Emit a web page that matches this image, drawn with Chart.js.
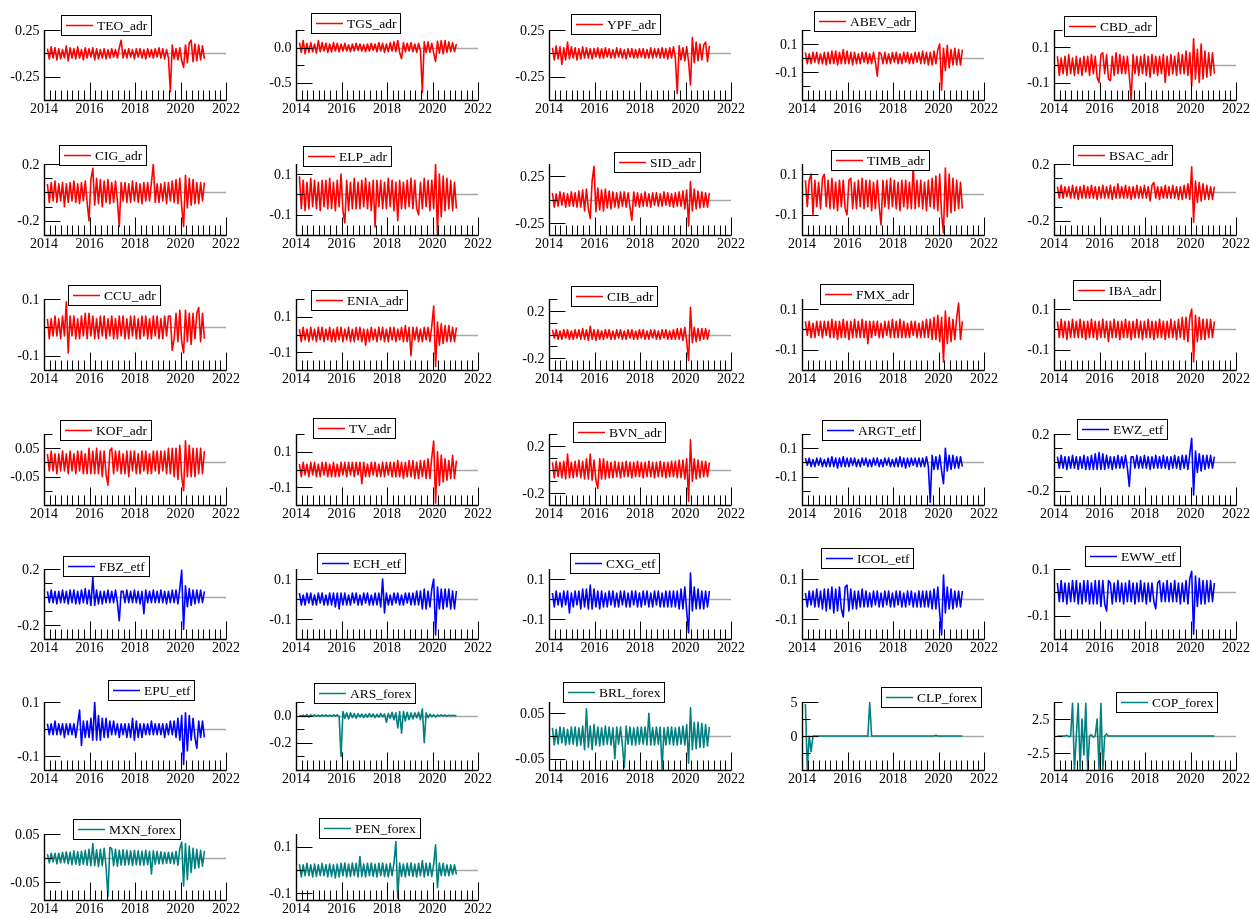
<!DOCTYPE html>
<html><head><meta charset="utf-8">
<script src="https://cdn.jsdelivr.net/npm/chart.js"></script>
<style>
html,body{margin:0;padding:0;background:#fff;width:1251px;height:919px;overflow:hidden;position:relative}
canvas{position:absolute;display:block}
</style></head><body>
<script>
// ---------------- DATA (daily returns, ~monthly envelope samples) ----------------
const sampleStart = 2014.15, sampleEnd = 2021.05;
const xTickLabels = ['2014','2016','2018','2020','2022'];

const TEO_adr = [.05,-.06,.07,-.05,.06,-.07,.05,-.06,.04,-.05,.08,-.08, .06,-.05,.05,-.06,.07,-.05,.04,-.07,.06,-.05,.05,-.04, .06,-.07,.05,-.06,.04,-.05,.05,-.06,.04,-.05,.05,-.04, .04,-.05,.06,.14,-.05,.04,-.05,.05,-.04,.04,-.06,.05, -.04,.05,-.05,.04,-.06,.05,-.04,.04,-.05,.05,-.04,.06, -.05,.05,-.06,.04,-.05,-.41,.09,-.06,.05,-.07,.06,-.08, -.15,.09,-.1,.11,.14,-.09,.1,-.08,.09,-.07,.08,-.06];
const TGS_adr = [.07,-.07,.1,-.09,.06,-.07,.07,-.06,.05,-.08,.1,-.06, .07,-.05,.06,-.07,.05,-.06,.07,-.05,.06,-.06,.05,-.05, .06,-.05,.04,-.06,.05,-.05,.06,-.04,.05,-.05,.04,-.06, .05,-.05,.06,-.04,.05,-.06,.07,-.05,.06,-.07,.05,-.06, .07,-.05,.08,-.06,.1,-.07,-.16,.07,-.06,.06,-.05,.07, -.06,.05,-.07,.06,-.05,-.64,.08,-.07,.08,-.07,.06,-.08, -.2,.09,-.08,.1,-.09,.1,-.07,.08,-.06,.07,-.06,.05];
const YPF_adr = [.06,-.07,.08,-.06,.07,-.12,.06,-.07,.12,-.06,.07,-.05, .06,-.07,.05,-.06,.07,-.05,.06,-.05,.05,-.06,.05,-.04, .06,-.05,.05,-.05,.06,-.04,.05,-.05,.04,-.05,.06,-.04, .05,-.05,.04,-.06,.05,-.04,.05,-.05,.04,-.05,.05,-.04, .05,-.05,.04,-.05,.06,-.05,.05,-.04,.05,-.05,.06,-.05, .05,-.06,.06,-.05,.07,-.05,-.43,.08,-.07,.06,-.08,.07, -.09,-.34,.17,-.1,.12,-.08,.1,-.07,.09,.12,-.09,.08];
const ABEV_adr = [.04,-.04,.03,-.04,.04,-.03,.04,-.04,.03,-.04,.04,-.05, .04,-.04,.05,-.04,.05,-.05,.04,-.04,.06,-.04,.05,-.04, .04,-.05,.04,-.04,.03,-.04,.04,-.03,.04,-.04,.03,-.04, .04,-.03,-.13,.04,.03,-.04,.04,-.04,.03,-.04,.04,-.03, .04,-.04,.03,-.04,.04,-.03,.04,-.04,.03,-.04,.04,-.03, .04,-.04,.05,-.04,.04,-.05,.04,-.05,.05,-.04,.06,.1, -.23,.07,-.09,.09,-.07,.06,-.05,.07,-.05,.06,-.05,.06];
const CBD_adr = [.05,-.06,.04,-.05,.05,-.06,.06,-.05,.04,-.06,.05,-.05, .04,-.06,.05,-.04,.05,-.06,.06,-.05,.05,-.07,-.1,.06, .07,-.05,.06,-.08,-.09,.05,-.06,.07,-.05,.06,-.05,.05, -.05,.05,-.06,-.2,.06,-.05,.05,-.06,.05,-.05,.06,-.06, .05,-.07,.06,-.05,.05,-.06,.05,-.05,.06,-.1,.05,-.06, .06,-.05,.05,-.06,.07,-.05,.06,-.05,.08,-.06,.07,-.12, .15,-.08,.09,-.1,.12,-.08,.08,-.07,.07,-.06,.07,-.05];
const CIG_adr = [.06,-.07,.07,-.06,.08,-.07,.06,-.06,.07,-.1,.06,-.07, .07,-.06,.08,-.07,.06,-.08,.07,-.06,.08,-.07,-.2,.09, .17,-.09,.1,-.08,.09,-.1,.08,-.07,.09,-.08,.07,-.07, .08,-.06,-.24,.07,-.06,.07,-.07,.06,-.07,.08,-.06,.07, -.07,.06,-.08,.07,-.06,.07,-.06,.07,.2,-.07,.06,-.07, .06,-.06,.07,-.08,.07,-.06,.08,-.07,.09,-.08,.1,-.1, -.24,.12,-.11,.1,-.09,.09,-.08,.07,-.08,.07,-.06,.07];
const ELP_adr = [.09,-.07,.07,-.08,.06,-.07,.08,-.06,.07,-.07,.06,-.08, .07,-.06,.07,-.07,.08,-.07,.06,-.08,.07,-.06,.1,-.08, -.14,.07,-.08,.06,-.07,.08,-.07,.06,-.07,.07,-.06,.08, -.07,.06,-.08,.07,-.16,.07,-.06,.07,-.07,.06,-.07,.08, -.06,.07,-.08,.06,-.13,.07,-.07,.06,-.07,.07,-.06,.08, -.07,.07,-.07,-.1,.06,-.07,.08,-.06,.07,-.08,.07,-.07, .15,-.2,.1,-.11,.09,-.08,.08,-.07,.07,-.08,.06,-.07];
const SID_adr = [.07,-.08,.06,-.07,.08,-.06,.07,-.08,.06,-.07,.08,-.07, .07,-.08,.09,-.08,.1,-.12,.11,-.1,-.2,.2,.35,-.13, .12,-.11,.1,-.12,.11,-.09,.09,-.1,.08,-.08,.07,-.09, .08,-.07,.08,-.08,.07,-.08,-.22,.08,-.07,.07,-.08,.06, -.07,.08,-.07,.06,-.08,.07,-.06,.07,-.07,.06,-.07,.08, -.06,.07,-.07,.06,-.08,.07,-.07,.08,-.07,.09,-.1,.1, -.28,.19,-.12,.11,-.1,.09,-.09,.08,-.08,.07,-.08,.07];
const TIMB_adr = [.07,-.06,.07,.1,-.1,.07,-.06,.06,-.07,.08,.1,-.06, .07,-.07,.08,-.07,.06,-.08,.07,-.06,.07,-.07,-.1,.07, .08,-.07,.06,-.07,.07,-.06,.08,-.07,.07,-.06,.07,-.08, .06,-.07,.07,-.06,-.15,.07,-.06,.07,-.07,.08,-.06,.07, -.07,.06,-.08,.07,-.06,.07,-.07,.06,-.07,.14,-.07,.07, -.06,.07,-.07,.06,-.08,.07,-.06,.08,-.07,.09,-.08,.1, -.1,-.19,.13,-.11,.1,-.09,.08,-.08,.07,-.07,.06,-.07];
const BSAC_adr = [.04,-.04,.05,-.04,.04,-.03,.04,-.04,.05,-.04,.04,-.05, .04,-.04,.05,-.04,.04,-.04,.05,-.04,.04,-.05,.04,-.04, .05,-.04,.04,-.04,.05,-.05,.04,-.04,.06,-.04,.04,-.04, .05,-.04,.04,-.05,.04,-.04,.05,-.04,.04,-.04,.05,-.04, .04,-.06,.05,.07,-.04,.04,-.05,.04,-.04,.05,-.04,.04, -.04,.05,-.04,.04,-.05,.04,-.05,.05,-.04,.06,-.05,.18, -.21,.08,-.07,.07,-.06,.06,-.05,.05,-.05,.04,-.05,.04];
const CCU_adr = [.03,-.04,.03,-.03,.04,-.03,.03,-.04,.04,-.03,.09,-.09, .04,-.03,.04,-.04,.03,-.04,.04,-.03,.05,-.04,.05,-.03, .04,-.04,.03,-.04,.04,-.03,.04,-.04,.03,-.03,.04,-.04, .03,-.04,.04,-.03,.04,-.04,.03,-.04,.04,-.03,.04,-.04, .03,-.04,.04,-.03,.04,-.04,.03,-.04,.04,-.03,.04,-.04, .03,-.04,.04,-.03,.04,.04,-.08,-.04,.05,-.05,.06,-.05, -.09,.06,-.05,.05,-.06,.05,-.04,.05,.07,-.05,.05,-.04];
const ENIA_adr = [.03,-.04,.04,-.03,.03,-.04,.04,-.03,.03,-.04,.04,-.03, .04,-.04,.03,-.03,.04,-.04,.03,-.04,.04,-.03,.04,-.04, .03,-.03,.04,-.04,.03,-.04,.04,-.03,.04,-.04,.03,-.06, .03,-.04,.04,-.03,.03,-.04,.04,-.03,.04,-.04,.03,-.04, .04,-.03,.04,-.04,.03,-.03,.04,-.04,.05,-.04,.04,-.12, .04,-.03,.04,-.04,.03,-.04,.04,-.03,.04,-.04,.05,.16, -.18,.07,-.06,.06,-.05,.05,-.04,.05,-.04,.04,-.04,.04];
const CIB_adr = [.04,-.03,.04,-.04,.03,-.04,.04,-.03,.04,-.04,.03,-.04, .04,-.03,.04,-.04,.05,-.04,.04,-.05,.07,-.04,.04,-.05, .04,-.04,.03,-.04,.04,-.03,.04,-.04,.03,-.04,.04,-.03, .04,-.04,.03,-.04,.04,-.03,.04,-.04,.03,-.04,.04,-.03, .04,-.04,.03,-.04,.04,-.03,.04,-.04,.03,-.04,.04,-.03, .04,-.04,.03,-.04,.04,-.04,.05,-.04,.05,-.05,.06,-.06, -.22,.23,-.07,.06,-.06,.05,-.05,.05,-.04,.05,-.04,.04];
const FMX_adr = [.04,-.03,.04,-.04,.03,-.04,.04,-.03,.04,-.04,.04,-.03, .04,-.04,.05,-.04,.04,-.05,.04,-.04,.05,-.04,.04,-.05, .04,-.04,.05,-.04,.04,-.04,.05,-.04,.04,-.07,.04,-.04, .04,-.03,.04,-.04,.03,-.04,.04,-.03,.04,-.04,.05,-.04, .04,-.04,.05,-.04,.04,-.04,.03,-.04,.04,-.03,.04,-.04, .03,-.04,.04,-.04,.05,-.04,.05,-.05,.06,-.05,.07,-.06, .06,-.16,.09,-.07,.06,-.06,.05,-.05,.06,.13,-.05,.04];
const IBA_adr = [.04,-.04,.05,-.04,.04,-.05,.04,-.04,.05,-.04,.04,-.04, .05,-.04,.04,-.05,.04,-.04,.05,-.04,.04,-.05,.04,-.04, .05,-.04,.04,-.06,.04,-.04,.05,-.04,.04,-.05,.04,-.04, .05,-.04,.04,-.05,.04,-.04,.05,-.04,.04,-.05,.04,-.04, .05,-.04,.04,-.05,.04,-.04,.05,-.04,.04,-.05,.04,-.04, .05,-.04,.04,-.05,.05,-.04,.06,-.05,.06,-.06,.06,.1, -.16,.07,-.06,.06,-.05,.05,-.05,.05,-.04,.05,-.04,.04];
const KOF_adr = [.03,-.03,.04,-.03,.03,-.04,.03,-.03,.04,-.03,.03,-.04, .04,-.03,.03,-.04,.04,-.03,.04,-.04,.03,-.04,.05,-.04, .04,-.04,.05,-.04,.04,-.05,.04,-.04,-.08,.04,.05,-.04, .04,-.03,.04,-.04,.03,-.04,.04,-.05,.04,-.03,.04,-.04, .03,-.04,.04,-.03,.04,-.04,.03,-.04,.04,-.03,.04,-.04, .04,-.03,.04,-.04,.05,-.04,.05,-.05,.05,-.06,.06,-.05, -.1,.076,-.05,.06,-.05,.05,-.05,.05,-.04,.05,-.04,.04];
const TV_adr = [.03,-.04,.04,-.03,.03,-.04,.04,-.03,.04,-.04,.03,-.04, .04,-.03,.04,-.04,.03,-.04,.04,-.04,.03,-.04,.04,-.03, .04,-.04,.04,-.03,.04,-.04,.04,-.03,.04,-.08,.04,-.04, .03,-.04,.04,-.03,.04,-.04,.03,-.04,.04,-.04,.04,-.03, .04,-.04,.04,-.04,.05,-.04,.04,-.05,.04,-.04,.05,-.04, .05,-.05,.04,-.05,.05,-.04,.05,-.05,.06,-.05,.07,.16, -.19,.1,-.09,.08,-.07,.06,-.06,.05,-.05,.08,-.05,.05];
const BVN_adr = [.06,-.07,.07,-.06,.06,-.07,.07,-.08,.13,-.07,.06,-.07, .07,-.06,.08,-.07,.07,-.08,.09,-.08,.13,-.09,.08,-.09, -.16,.09,-.08,.09,-.08,.07,-.07,.06,-.07,.07,-.06,.06, -.07,.06,-.06,.07,-.06,.06,-.07,.06,-.06,.07,-.06,.06, -.07,.06,-.06,.07,-.06,.06,-.07,.06,-.06,.07,-.06,.06, -.07,.06,-.06,.07,-.06,.07,-.07,.08,-.07,.08,-.08,.09, -.27,.25,-.1,.09,-.08,.08,-.07,.07,-.06,.07,-.06,.06];
const ARGT_etf = [.03,-.02,.03,-.03,.02,-.03,.03,-.02,.03,-.03,.02,-.03, .03,-.03,.04,-.03,.03,-.04,.03,-.03,.04,-.03,.03,-.03, .03,-.02,.03,-.03,.02,-.03,.03,-.02,.03,-.03,.02,-.03, .03,-.02,.03,-.03,.02,-.03,.03,-.02,.03,-.03,.02,-.03, .03,-.03,.04,-.03,.03,-.04,.03,-.03,.03,-.02,.03,-.03, .03,-.03,.03,-.03,.04,-.03,-.28,.05,-.05,.04,-.05,.05, -.06,-.15,.1,-.06,.05,-.05,.05,-.04,.04,-.04,.04,-.03];
const EWZ_etf = [.04,-.04,.05,-.04,.04,-.05,.04,-.04,.05,-.04,.04,-.05, .04,-.04,.05,-.05,.04,-.05,.05,-.05,.06,-.05,.07,-.05, .06,-.05,.05,-.04,.04,-.05,.04,-.04,.05,-.04,.04,-.04, .05,-.04,-.17,.04,.04,-.04,.05,-.04,.04,-.04,.05,-.04, .04,-.05,.04,-.04,.05,-.04,.04,-.04,.05,-.04,.04,-.05, .04,-.04,.05,-.04,.04,-.05,.05,-.04,.05,-.05,.06,.17, -.23,.08,-.07,.06,-.06,.05,-.05,.05,-.04,.05,-.04,.04];
const FBZ_etf = [.04,-.04,.05,-.04,.04,-.05,.04,-.04,.05,-.04,.04,-.05, .05,-.04,.05,-.05,.04,-.05,.05,-.04,.06,-.05,.05,-.06, .14,-.06,.05,-.05,.04,-.05,.04,-.04,.05,-.04,.04,-.04, .05,-.04,-.17,.04,.04,-.04,.05,-.04,.04,-.04,.05,-.04, .04,-.05,.04,-.12,.05,-.04,.04,-.04,.05,-.04,.04,-.04, .05,-.04,.04,-.05,.04,-.04,.05,-.04,.05,-.05,.06,.19, -.23,.08,-.07,.06,-.06,.05,-.05,.05,-.04,.05,-.04,.04];
const ECH_etf = [.03,-.03,.02,-.03,.03,-.02,.03,-.03,.02,-.03,.03,-.02, .03,-.03,.02,-.03,.03,-.03,.03,-.04,.03,-.05,.03,-.03, .03,-.03,.02,-.03,.03,-.02,.03,-.03,.02,-.03,.03,-.02, .03,-.03,.02,-.03,.03,-.03,.03,-.04,.1,-.07,.03,-.03, .02,-.03,.03,-.02,.03,-.03,.02,-.03,.03,-.02,.03,-.03, .03,-.03,.04,-.03,.04,-.05,.05,-.05,.04,-.04,.05,.1, -.18,.06,-.05,.05,-.05,.05,-.04,.05,-.05,.04,-.05,.04];
const CXG_etf = [.03,-.04,.04,-.03,.03,-.04,.04,-.03,.04,-.07,.03,-.04, .04,-.03,.04,-.05,.05,-.04,.05,-.05,.07,-.05,.05,-.04, .04,-.05,.04,-.04,.03,-.04,.04,-.03,.04,-.04,.03,-.04, .04,-.03,.04,-.04,.03,-.04,.04,-.03,.04,-.04,.03,-.04, .04,-.03,.04,-.04,.03,-.04,.04,-.03,.04,-.04,.03,-.04, .04,-.04,.04,-.04,.04,-.04,.04,-.05,.05,-.05,.06,-.06, -.17,.13,-.06,.06,-.05,.05,-.05,.04,-.05,.04,-.04,.04];
const ICOL_etf = [.03,-.04,.04,-.03,.04,-.04,.05,-.04,.04,-.05,.05,-.06, .05,-.05,.06,-.07,.05,-.06,.06,-.05,-.09,.06,.07,-.06, .05,-.05,.04,-.05,.04,-.04,.05,-.04,.04,-.04,.03,-.04, .04,-.03,.04,-.04,.03,-.04,.04,-.03,.04,-.04,.03,-.04, .04,-.03,.04,-.04,.03,-.04,.04,-.03,.04,-.04,.03,-.04, .04,-.04,.04,-.04,.04,-.04,.04,-.05,.05,-.05,.06,-.07, -.18,.12,-.07,.06,-.05,.05,-.05,.04,-.04,.04,-.04,.04];
const EWW_etf = [.04,-.04,.05,-.04,.04,-.05,.04,-.04,.05,-.04,.05,-.05, .04,-.05,.05,-.04,.05,-.05,.04,-.05,.05,-.05,.05,-.06, .05,-.05,-.08,.05,.04,-.05,.04,-.04,.05,-.04,.04,-.05, .04,-.04,.05,-.04,.04,-.05,.04,-.04,.05,-.04,.04,-.05, .04,-.04,.04,-.04,-.07,.04,.05,-.04,.04,-.04,.05,-.04, .04,-.04,.05,-.04,.04,-.05,.04,-.04,.05,-.05,.06,.09, -.18,.07,-.06,.06,-.05,.05,-.05,.05,-.04,.05,-.04,.04];
const EPU_etf = [.02,-.02,.02,-.02,.03,-.02,.02,-.02,.02,-.03,.02,-.02, .02,-.02,.02,-.03,.02,.07,-.06,.03,-.03,.03,-.03,.04, -.04,.1,-.04,.05,-.04,.04,-.03,.04,-.03,.03,-.02,.03, -.02,.02,-.03,.02,-.02,.02,-.03,.02,-.03,.04,-.04,.03, -.03,.02,-.03,.02,-.02,.02,-.02,.03,-.02,.02,-.02,.02, -.02,.02,-.03,.02,-.02,.03,-.02,.03,-.03,.04,-.04,.05, -.13,.06,-.08,.05,-.04,.04,-.03,-.07,.03,-.03,.03,-.03];
const ARS_forex = [.005,-.005,.004,-.006,.008,-.01,.006,-.005,.005,-.006,.004,-.005, .005,-.004,.006,-.005,.004,-.005,.006,-.004,.005,-.006,-.3,.03, -.02,.02,-.025,.02,-.015,.015,-.02,.015,-.01,.012,-.015,.01, -.012,.015,-.01,.012,-.015,.01,-.012,.015,-.01,.012,-.05,.015, -.02,.025,-.03,.02,-.09,.03,-.13,.03,-.04,.025,-.03,.02, -.025,.02,-.015,.025,-.03,.05,-.2,.02,-.015,.01,-.008,.006, -.01,.005,-.004,.005,-.003,.004,-.003,.003,-.002,.003,-.002,.002];
const BRL_forex = [.018,-.02,.015,-.018,.02,-.015,.018,-.02,.015,-.018,.02,-.018, .02,-.022,.018,-.02,.022,-.03,.06,-.025,.022,-.03,.025,-.02, .02,-.022,.018,-.02,.022,-.018,.02,-.02,.018,-.05,.02,-.018, .02,-.02,-.07,.022,-.018,.02,-.02,.018,-.02,.02,-.018,.02, -.018,.02,-.02,.05,-.02,.018,-.02,.02,-.018,.02,-.075,.018, -.02,.02,-.018,.02,-.02,.018,-.02,.02,-.018,.022,-.02,.025, -.06,.062,-.03,.03,-.028,.03,-.025,.028,-.025,.025,-.022,.02];
const CLP_forex = [4.7,-4.9,.01,-2.3,.01,-.01,.01,-.01,.01,-.01,.01,-.01, .01,-.01,.01,-.01,.01,-.01,.01,-.01,.01,-.01,.01,-.01, .01,-.01,.01,-.01,.01,-.01,.01,-.01,.01,-.01,4.9,-.01, .01,-.01,.01,-.01,.01,-.01,.01,-.01,.01,-.01,.01,-.01, .01,-.01,.01,-.01,.01,-.01,.01,-.01,.01,-.01,.01,-.01, .01,-.01,.01,-.01,.01,-.01,.01,-.01,.01,.1,.01,-.01, .01,-.01,.01,-.01,.01,-.01,.01,-.01,.01,-.01,.01,-.01];
const COP_forex = [.01,-.01,.01,-.01,.01,.1,-.1,.01,4.8,-5,.01,4.8, -5,2.5,-2.8,4.8,-5,.01,.2,-.2,.01,2.5,-5,4.8, -5,.01,.3,-.01,.01,-.01,.01,-.01,.01,-.01,.01,-.01, .01,-.01,.01,-.01,.01,-.01,.01,-.01,.01,-.01,.01,-.01, .01,-.01,.01,-.01,.01,-.01,.01,-.01,.01,-.01,.01,-.01, .01,-.01,.01,-.01,.01,-.01,.01,-.01,.01,-.01,.01,-.01, .01,-.01,.01,-.01,.01,-.01,.01,-.01,.01,-.01,.01,-.01];
const MXN_forex = [.008,-.01,.01,-.008,.01,-.012,.01,-.01,.012,-.01,.013,-.012, .012,-.014,.015,-.013,.013,-.015,.014,-.013,.016,-.015,.018,-.016, .03,-.016,.017,-.018,.018,-.016,.02,-.018,-.08,.022,.02,-.016, .018,-.017,.016,-.015,.017,-.015,.016,-.014,.015,-.016,.016,-.014, .015,-.015,.014,-.015,.016,-.014,.014,-.033,.015,-.013,.014,-.012, .013,-.012,.012,-.011,.012,-.011,.012,-.012,.014,-.015,.02,.033, -.058,.03,-.045,.025,-.03,.02,-.022,.018,-.02,.016,-.017,.015];
const PEN_forex = [.025,-.03,.022,-.025,.028,-.025,.022,-.03,.025,-.028,.022,-.025, .028,-.025,.022,-.03,.025,-.028,.022,-.035,.025,-.03,.028,-.025, .03,-.03,.025,-.028,.03,-.025,.028,-.03,.058,-.028,.025,-.03, .028,-.025,.03,-.028,.025,-.03,.028,-.025,.03,-.028,.025,-.03, .028,-.025,.03,.122,-.121,.03,-.028,.025,-.03,.028,-.025,.03, -.028,.025,-.03,.028,-.025,.04,-.03,.028,-.025,.03,-.028,.025, .108,-.077,.03,-.025,.028,-.025,.022,-.025,.022,-.02,.022,-.02];

const seriesNames = ['TEO_adr','TGS_adr','YPF_adr','ABEV_adr','CBD_adr','CIG_adr','ELP_adr','SID_adr','TIMB_adr','BSAC_adr','CCU_adr','ENIA_adr','CIB_adr','FMX_adr','IBA_adr','KOF_adr','TV_adr','BVN_adr','ARGT_etf','EWZ_etf','FBZ_etf','ECH_etf','CXG_etf','ICOL_etf','EWW_etf','EPU_etf','ARS_forex','BRL_forex','CLP_forex','COP_forex','MXN_forex','PEN_forex'];
const seriesValues = [TEO_adr,TGS_adr,YPF_adr,ABEV_adr,CBD_adr,CIG_adr,ELP_adr,SID_adr,TIMB_adr,BSAC_adr,CCU_adr,ENIA_adr,CIB_adr,FMX_adr,IBA_adr,KOF_adr,TV_adr,BVN_adr,ARGT_etf,EWZ_etf,FBZ_etf,ECH_etf,CXG_etf,ICOL_etf,EWW_etf,EPU_etf,ARS_forex,BRL_forex,CLP_forex,COP_forex,MXN_forex,PEN_forex];

// y-axis ranges and tick labels per panel
const yMins = [-0.5,-0.75,-0.5,-0.3,-0.2, -0.3,-0.2,-0.375,-0.2,-0.3, -0.15,-0.2,-0.3,-0.2,-0.2, -0.15,-0.2,-0.3,-0.3,-0.3, -0.3,-0.2,-0.2,-0.2,-0.2, -0.15,-0.4,-0.075,-5,-5, -0.0875,-0.13];
const yMaxs = [0.25,0.25,0.25,0.2,0.2, 0.2,0.15,0.375,0.15,0.2, 0.1,0.2,0.3,0.15,0.15, 0.1,0.2,0.3,0.2,0.2, 0.2,0.15,0.15,0.15,0.1, 0.1,0.1,0.075,5,5, 0.05,0.155];
const yTickSteps = [0.25,0.25,0.25,0.1,0.1, 0.1,0.1,0.25,0.1,0.1, 0.1,0.1,0.1,0.1,0.1, 0.05,0.1,0.1,0.1,0.1, 0.1,0.1,0.1,0.1,0.1, 0.1,0.1,0.05,2.5,2.5, 0.05,0.1];
const yLabelValues = [[0.25,-0.25],[0,-0.5],[0.25,-0.25],[0.1,-0.1],[0.1,-0.1],
  [0.2,-0.2],[0.1,-0.1],[0.25,-0.25],[0.1,-0.1],[0.2,-0.2],
  [0.1,-0.1],[0.1,-0.1],[0.2,-0.2],[0.1,-0.1],[0.1,-0.1],
  [0.05,-0.05],[0.1,-0.1],[0.2,-0.2],[0.1,-0.1],[0.2,-0.2],
  [0.2,-0.2],[0.1,-0.1],[0.1,-0.1],[0.1,-0.1],[0.1,-0.1],
  [0.1,-0.1],[0,-0.2],[0.05,-0.05],[5,0],[2.5,-2.5],
  [0.05,-0.05],[0.1,-0.1]];
const yLabelTexts = [['0.25','-0.25'],['0.0','-0.5'],['0.25','-0.25'],['0.1','-0.1'],['0.1','-0.1'],
  ['0.2','-0.2'],['0.1','-0.1'],['0.25','-0.25'],['0.1','-0.1'],['0.2','-0.2'],
  ['0.1','-0.1'],['0.1','-0.1'],['0.2','-0.2'],['0.1','-0.1'],['0.1','-0.1'],
  ['0.05','-0.05'],['0.1','-0.1'],['0.2','-0.2'],['0.1','-0.1'],['0.2','-0.2'],
  ['0.2','-0.2'],['0.1','-0.1'],['0.1','-0.1'],['0.1','-0.1'],['0.1','-0.1'],
  ['0.1','-0.1'],['0.0','-0.2'],['0.05','-0.05'],['5','0'],['2.5','-2.5'],
  ['0.05','-0.05'],['0.1','-0.1']];

// ---------------- LAYOUT / STYLE ----------------
const COL_AXIS_X = [44, 296, 549, 802, 1054];
const ROW_TOP = [30, 164, 299, 434, 569, 702, 834];
const ROW_BOTTOM = [100, 235, 370, 505, 639, 770, 900];
const LEGEND_POS = [[61,15],[311,13],[571,14],[814,11],[1064,16],
  [59,145],[303,146],[614,152],[831,150],[1073,145],
  [68,285],[311,290],[571,286],[820,284],[1073,280],
  [60,420],[313,418],[573,422],[822,420],[1077,419],
  [63,556],[317,553],[570,553],[821,548],[1085,546],
  [108,680],[314,683],[563,682],[881,687],[1116,692],
  [73,819],[319,818]];
function colorFor(i){ return i < 18 ? '#ff0000' : (i < 26 ? '#0000ff' : '#008080'); }
const FONT = '14px "Liberation Serif", "Times New Roman", serif';
const LEGEND_FONT = '13.5px "Liberation Serif", "Times New Roman", serif';
const PAD_L = 44, PAD_T = 30, PAD_R = 24, PAD_B = 20;

const axisPlugin = {
  id: 'eviewsAxes',
  beforeDatasetsDraw(chart, args, o) {
    const {ctx, scales:{x, y}} = chart;
    const y0 = Math.round(y.getPixelForValue(0)) + 0.5;
    ctx.save();
    ctx.strokeStyle = '#a9a9a9'; ctx.lineWidth = 1.5;
    ctx.beginPath(); ctx.moveTo(x.getPixelForValue(2014), y0); ctx.lineTo(x.getPixelForValue(2022), y0); ctx.stroke();
    ctx.restore();
  },
  afterDatasetsDraw(chart, args, o) {
    const {ctx, scales:{x, y}} = chart;
    ctx.save();
    const L = Math.round(x.getPixelForValue(2014)) + 0.5;
    const R = Math.round(x.getPixelForValue(2022)) + 0.5;
    const B = Math.round(y.getPixelForValue(y.min)) + 0.5;
    const T = Math.round(y.getPixelForValue(y.max));
    ctx.strokeStyle = '#000';
    ctx.lineWidth = 1.4;
    ctx.beginPath(); ctx.moveTo(L, T); ctx.lineTo(L, B); ctx.lineTo(R, B); ctx.stroke();
    ctx.lineWidth = 1;
    ctx.beginPath();
    for (let q = 1; q <= 32; q++) {
      const px = Math.round(x.getPixelForValue(2014 + q / 4)) + 0.5;
      const len = (q % 8 === 0) ? 18 : 10;
      ctx.moveTo(px, B); ctx.lineTo(px, B - len);
    }
    ctx.stroke();
    ctx.fillStyle = '#000'; ctx.font = FONT; ctx.textAlign = 'center'; ctx.textBaseline = 'top';
    o.xLabels.forEach(lbl => ctx.fillText(lbl, x.getPixelForValue(Number(lbl)), B + 2));
    const st = o.step;
    const k0 = Math.ceil(y.min / st - 1e-6), k1 = Math.floor(y.max / st + 1e-6);
    ctx.beginPath();
    for (let k = k0; k <= k1; k++) {
      const v = k * st;
      const py = Math.round(y.getPixelForValue(v)) + 0.5;
      const isLab = o.labelVals.some(lv => Math.abs(lv - v) < 1e-6);
      ctx.moveTo(L, py); ctx.lineTo(L + (isLab ? 16 : 8), py);
    }
    ctx.stroke();
    ctx.textAlign = 'right'; ctx.textBaseline = 'middle';
    o.labelVals.forEach((v, j) => ctx.fillText(o.labelTexts[j], L - 5, y.getPixelForValue(v) + 1));
    ctx.font = LEGEND_FONT;
    const tw = ctx.measureText(o.name).width;
    const bx = o.legendX, by = o.legendY, bw = Math.round(5 + 27 + 4 + tw + 4), bh = 20;
    ctx.fillStyle = '#fff'; ctx.fillRect(bx, by, bw, bh);
    ctx.strokeStyle = '#000'; ctx.lineWidth = 1; ctx.strokeRect(bx + 0.5, by + 0.5, bw, bh);
    ctx.strokeStyle = o.color; ctx.lineWidth = 1.5;
    ctx.beginPath(); ctx.moveTo(bx + 5, by + 10.5); ctx.lineTo(bx + 32, by + 10.5); ctx.stroke();
    ctx.fillStyle = '#000'; ctx.textAlign = 'left'; ctx.textBaseline = 'middle';
    ctx.fillText(o.name, bx + 36, by + 11);
    ctx.restore();
  }
};

seriesNames.forEach((name, i) => {
  const row = Math.floor(i / 5), col = i % 5;
  const plotH = ROW_BOTTOM[row] - ROW_TOP[row];
  const cLeft = COL_AXIS_X[col] - PAD_L, cTop = ROW_TOP[row] - PAD_T;
  const cW = PAD_L + 182 + PAD_R, cH = PAD_T + plotH + PAD_B;
  const cv = document.createElement('canvas');
  cv.width = cW; cv.height = cH;
  cv.style.left = cLeft + 'px'; cv.style.top = cTop + 'px';
  cv.style.width = cW + 'px'; cv.style.height = cH + 'px';
  document.body.appendChild(cv);
  const vals = seriesValues[i];
  const stepX = (sampleEnd - sampleStart) / (vals.length - 1);
  const pts = vals.map((v, k) => ({x: sampleStart + k * stepX, y: v}));
  new Chart(cv, {
    type: 'line',
    data: { datasets: [{ label: name, data: pts, borderColor: colorFor(i), borderWidth: 1.6, borderJoinStyle: 'round', pointRadius: 0, tension: 0, fill: false }] },
    options: {
      responsive: false, animation: false, events: [], devicePixelRatio: 1,
      layout: { padding: { left: PAD_L, top: PAD_T, right: PAD_R, bottom: PAD_B } },
      plugins: {
        legend: { display: false }, tooltip: { enabled: false },
        eviewsAxes: {
          name: name, color: colorFor(i), step: yTickSteps[i],
          labelVals: yLabelValues[i], labelTexts: yLabelTexts[i], xLabels: xTickLabels,
          legendX: LEGEND_POS[i][0] - cLeft, legendY: LEGEND_POS[i][1] - cTop
        }
      },
      scales: {
        x: { type: 'linear', min: 2014, max: 2022, display: false },
        y: { type: 'linear', min: yMins[i], max: yMaxs[i], display: false }
      }
    },
    plugins: [axisPlugin]
  });
});
</script>
</body></html>
